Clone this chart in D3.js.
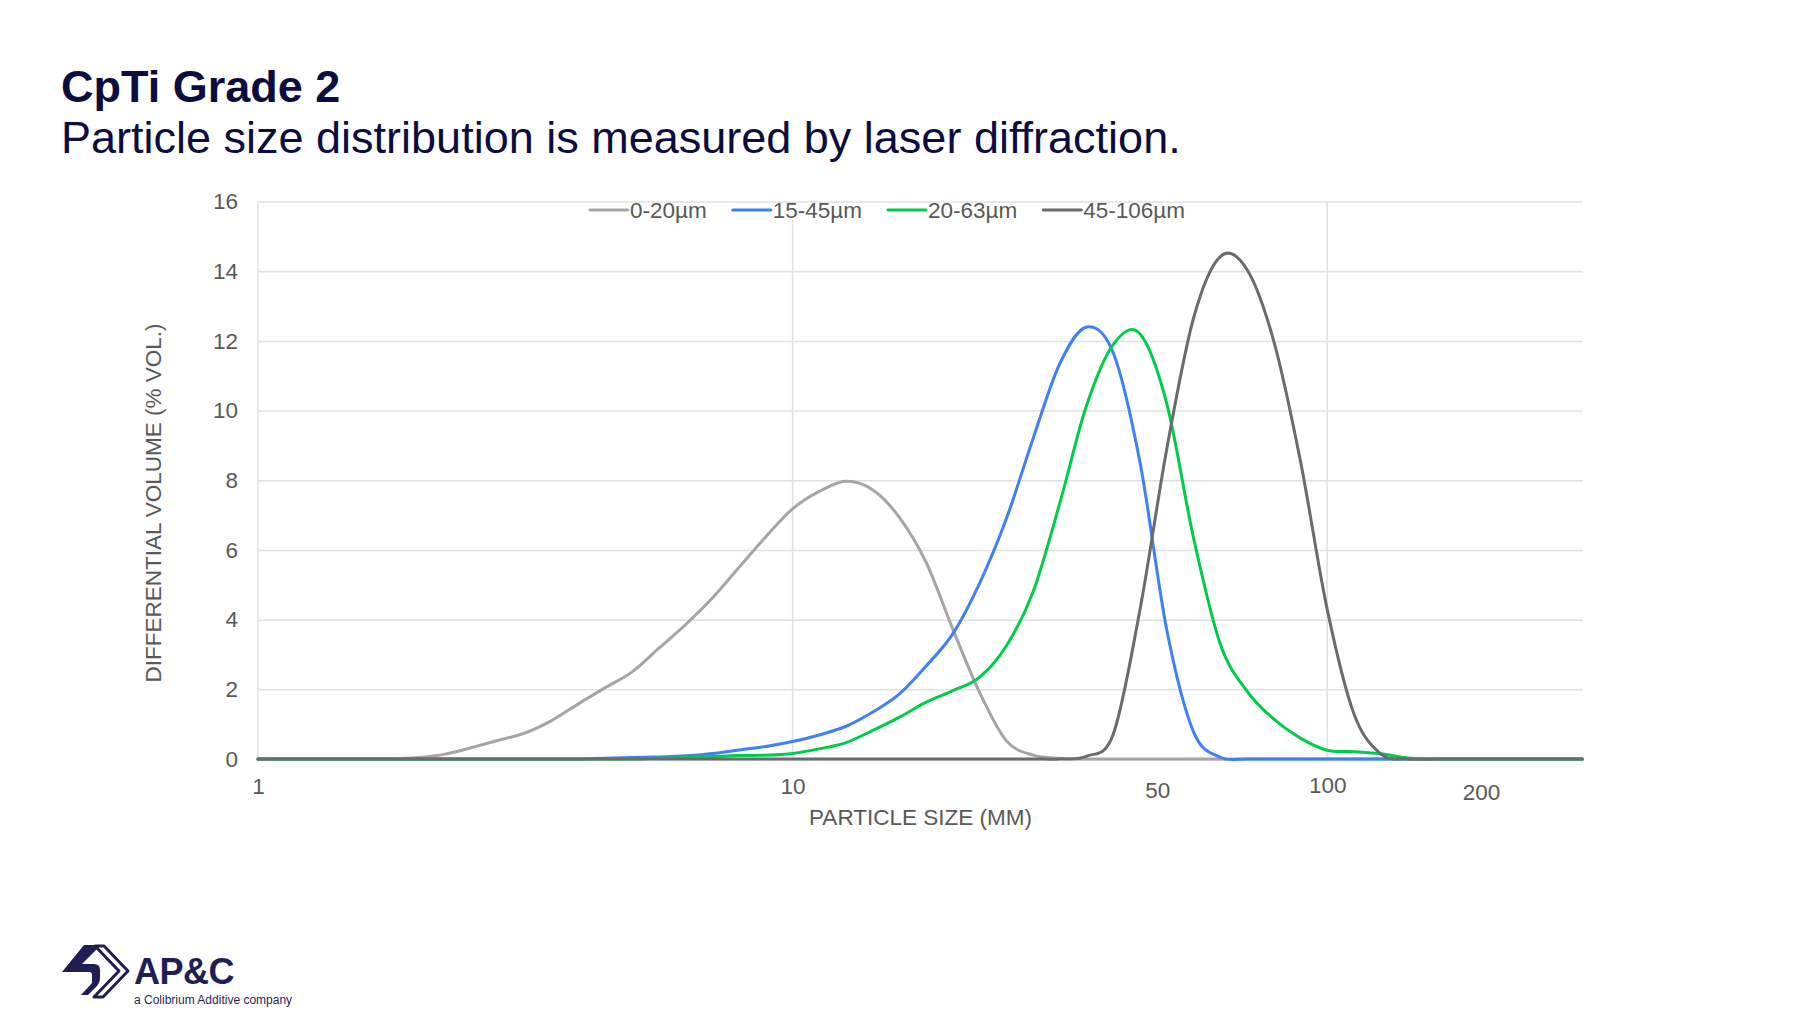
<!DOCTYPE html>
<html>
<head>
<meta charset="utf-8">
<script src="https://cdn.jsdelivr.net/npm/d3@7"></script>
<style>
  html, body { margin: 0; padding: 0; background: #ffffff; }
  text { font-family: "Liberation Sans", Arial, sans-serif; }
</style>
</head>
<body>
<div id="graph"></div>
<script>

// particle sizes (µm), log spaced bins
var sizes = [1, 1.122, 1.259, 1.413, 1.585, 1.778, 1.995, 2.239, 2.512, 2.818,
    3.162, 3.548, 3.981, 4.467, 5.012, 5.623, 6.31, 7.079, 7.943, 8.913,
    10, 11.22, 12.59, 14.13, 15.85, 17.78, 19.95, 22.39, 25.12, 28.18,
    31.62, 35.48, 39.81, 44.67, 50.12, 56.23, 63.1, 70.79, 79.43, 89.13,
    100, 112.2, 125.9, 141.3, 158.5, 177.8, 199.5, 223.9, 251.2, 281.8,
    300]

// differential volume (% vol.) per powder cut
var vol0_20 = [0, 0, 0, 0, 0, 0, 0.04, 0.14, 0.33, 0.54,
    0.75, 1.11, 1.59, 2.05, 2.5, 3.18, 3.86, 4.62, 5.5, 6.38,
    7.18, 7.68, 7.97, 7.72, 6.93, 5.64, 3.72, 1.9, 0.52, 0.11,
    0.02, 0, 0, 0, 0, 0, 0, 0, 0, 0,
    0, 0, 0, 0, 0, 0, 0, 0, 0, 0,
    0]

var vol15_45 = [0, 0, 0, 0, 0, 0, 0, 0, 0, 0,
    0, 0, 0, 0.02, 0.04, 0.06, 0.09, 0.16, 0.26, 0.36,
    0.5, 0.69, 0.94, 1.35, 1.87, 2.67, 3.6, 5.05, 6.9, 9.2,
    11.35, 12.4, 11.65, 8.5, 3.7, 0.78, 0.05, 0, 0, 0,
    0, 0, 0, 0, 0, 0, 0, 0, 0, 0,
    0]

var vol20_63 = [0, 0, 0, 0, 0, 0, 0, 0, 0, 0,
    0, 0, 0, 0, 0, 0.02, 0.04, 0.07, 0.1, 0.11,
    0.16, 0.29, 0.47, 0.82, 1.2, 1.63, 1.96, 2.35, 3.25, 4.8,
    7.35, 10.15, 11.9, 12.2, 10.2, 6.35, 3.3, 1.95, 1.15, 0.6,
    0.25, 0.21, 0.15, 0.03, 0, 0, 0, 0, 0, 0,
    0]

var vol45_106 = [0, 0, 0, 0, 0, 0, 0, 0, 0, 0,
    0, 0, 0, 0, 0, 0, 0, 0, 0, 0,
    0, 0, 0, 0, 0, 0, 0, 0, 0, 0,
    0, 0.08, 0.72, 4.3, 8.9, 12.65, 14.42, 14.05, 12.0, 8.55,
    4.3, 1.3, 0.15, 0, 0, 0, 0, 0, 0, 0,
    0]

var seriesNames = ["0-20µm", "15-45µm", "20-63µm", "45-106µm"]
var seriesValues = [vol0_20, vol15_45, vol20_63, vol45_106]
var seriesColors = ["#a5a5a5", "#4080f2", "#00cc4c", "#6b6b6b"]

// axis ticks
var yTicks = [0, 2, 4, 6, 8, 10, 12, 14, 16]
var xGridTicks = [1, 10, 100]
var xTickLabels = [1, 10, 50, 100, 200]

function main() {

    // dimensions and margins of the plot area
    var margin = { top: 201.5, right: 217, bottom: 262, left: 258 },
        width = 1800 - margin.left - margin.right,
        height = 1021 - margin.top - margin.bottom;

    var fontSize = "22.5px"

    var page = d3.select("#graph")
        .append("svg")
        .attr("width", 1800)
        .attr("height", 1021)

    // slide title
    page.append("text")
        .attr("x", 61)
        .attr("y", 102)
        .style("font-size", "45px")
        .style("font-weight", "bold")
        .attr("fill", "#0c0c3f")
        .text("CpTi Grade 2")

    page.append("text")
        .attr("x", 61)
        .attr("y", 153)
        .style("font-size", "45px")
        .attr("fill", "#0c0c3f")
        .text("Particle size distribution is measured by laser diffraction.")

    var svg = page.append("g")
        .attr("transform", "translate(" + margin.left + "," + margin.top + ")")

    // scales
    var x = d3.scaleLog()
        .domain([1, 301])
        .range([0, width])

    var y = d3.scaleLinear()
        .domain([0, 16])
        .range([height, 0])

    // horizontal grid + y labels
    var yAxis = svg.append("g")
        .call(d3.axisLeft(y).tickValues(yTicks).tickSize(-width).tickPadding(20))
    yAxis.select(".domain").remove()
    yAxis.selectAll("line").attr("stroke", "#e0e0e0").attr("stroke-width", 1.5)
    yAxis.selectAll("text")
        .style("font-size", fontSize)
        .style("font-family", "'Liberation Sans', Arial, sans-serif")
        .attr("fill", "#595959")

    // vertical grid at 1, 10, 100
    svg.append("g")
        .selectAll("line")
        .data(xGridTicks)
        .enter()
        .append("line")
        .attr("x1", function (d) { return x(d); })
        .attr("x2", function (d) { return x(d); })
        .attr("y1", 0)
        .attr("y2", height)
        .attr("stroke", "#e0e0e0")
        .attr("stroke-width", 1.5)

    // x labels (some were nudged in the original slide)
    var nudge = { 50: [-9, 4], 100: [0, -1], 200: [-7, 6] }
    var xAxis = svg.append("g")
        .attr("transform", "translate(0," + height + ")")
        .call(d3.axisBottom(x).tickValues(xTickLabels).tickFormat(function (d) { return d; }).tickSize(0).tickPadding(19))
    xAxis.select(".domain").attr("stroke", "#a6a6a6").attr("stroke-width", 1.5)
    xAxis.selectAll("text")
        .style("font-size", fontSize)
        .style("font-family", "'Liberation Sans', Arial, sans-serif")
        .attr("fill", "#595959")
        .attr("dx", function (d) { return nudge[d] ? nudge[d][0] : 0; })
        .attr("transform", function (d) { return nudge[d] ? "translate(0," + nudge[d][1] + ")" : null; })

    // lines
    var line = d3.line()
        .x(function (d) { return x(d[0]); })
        .y(function (d) { return y(d[1]); })
        .curve(d3.curveCardinal.tension(0))

    svg.append("g")
        .selectAll("path")
        .data(seriesValues)
        .enter()
        .append("path")
        .attr("d", function (vals) { return line(vals.map(function (v, i) { return [sizes[i], v]; })); })
        .attr("fill", "none")
        .attr("stroke", function (d, i) { return seriesColors[i]; })
        .attr("stroke-width", 3)
        .attr("stroke-linejoin", "round")
        .attr("stroke-linecap", "round")

    // axis titles
    page.append("text")
        .attr("transform", "translate(153,503) rotate(-90)")
        .attr("text-anchor", "middle")
        .attr("dominant-baseline", "central")
        .style("font-size", fontSize)
        .attr("fill", "#595959")
        .text("DIFFERENTIAL VOLUME (% VOL.)")

    page.append("text")
        .attr("x", margin.left + width / 2)
        .attr("y", 825)
        .attr("text-anchor", "middle")
        .style("font-size", fontSize)
        .attr("fill", "#595959")
        .text("PARTICLE SIZE (MM)")

    // legend
    var legend = page.append("g")
    var legendBg = legend.append("rect")
        .attr("y", 203)
        .attr("height", 17)
        .attr("fill", "#ffffff")
    var lx = 590, ly = 210
    seriesNames.forEach(function (name, i) {
        legend.append("line")
            .attr("x1", lx).attr("x2", lx + 38)
            .attr("y1", ly).attr("y2", ly)
            .attr("stroke", seriesColors[i])
            .attr("stroke-width", 3)
            .attr("stroke-linecap", "round")
        var t = legend.append("text")
            .attr("x", lx + 40)
            .attr("y", ly)
            .attr("dominant-baseline", "central")
            .style("font-size", fontSize)
            .attr("fill", "#595959")
            .text(name)
        lx = lx + 40 + t.node().getComputedTextLength() + 26
    })
    legendBg.attr("x", 586).attr("width", lx - 26 - 586 + 4)
    legendBg.lower()

    // company logo
    var logo = page.append("g").attr("fill", "#1f1f55")
    logo.append("path")
        .attr("d", "M84,945 L101,945 L82,964 L94,964 Q100,964 100,970 L100,978 Q100,983 96,987 L88,995 L81,995 L92,983 L92,975 Q92,972 89,972 L62,972 Z")
    logo.append("path")
        .attr("d", "M104,946 L128,971 L103,997 L94,997 L119,971 L95,946 Z")
        .attr("fill", "#ffffff")
        .attr("stroke", "#1f1f55")
        .attr("stroke-width", 3)
        .attr("stroke-linejoin", "round")
    logo.append("text")
        .attr("x", 134)
        .attr("y", 984)
        .style("font-size", "36px")
        .style("font-weight", "bold")
        .style("letter-spacing", "-0.5px")
        .text("AP&C")
    logo.append("text")
        .attr("x", 134)
        .attr("y", 1004)
        .style("font-size", "12px")
        .text("a Colibrium Additive company")
}
window.addEventListener(
    'load',
    main
);
</script>
</body>
</html>
